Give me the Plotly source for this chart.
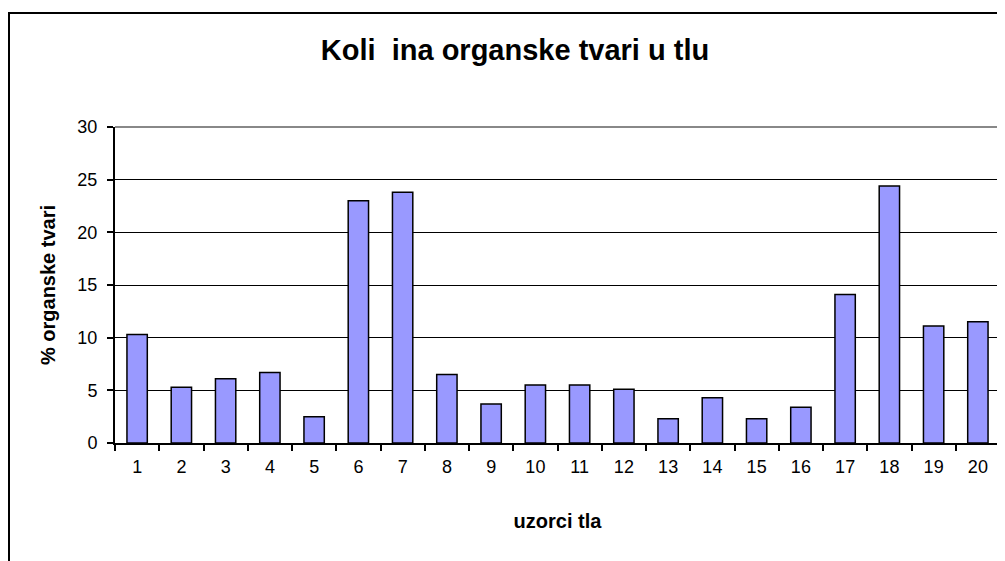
import plotly.graph_objects as go

categories = [str(i) for i in range(1, 21)]
values = [10.3, 5.3, 6.1, 6.7, 2.5, 23.0, 23.8, 6.5, 3.7, 5.5,
          5.5, 5.1, 2.3, 4.3, 2.3, 3.4, 14.1, 24.4, 11.1, 11.5]
y_ticks = [0, 5, 10, 15, 20, 25, 30]

title_text = "Koli  ina organske tvari u tlu"
x_title = "uzorci tla"
y_title = "% organske tvari"

W, H = 1005, 561
OFF = 8  # page body margin
L, R, T, B = 115 - OFF, 13, 127 - OFF, 126
pw = W - L - R
ph = H - T - B

FONT = "Liberation Sans, Arial, sans-serif"

fig = go.Figure()
fig.add_trace(go.Bar(
    x=categories, y=values,
    marker=dict(color="#9999FF", line=dict(color="black", width=1.5)),
    width=0.46,
))

def px_x(p):
    return (p - OFF - L) / pw

def px_y(p):
    return (H - B - (p - OFF)) / ph

shapes = [
    dict(type="line", xref="paper", yref="paper", x0=px_x(9), x1=px_x(9),
         y0=px_y(12), y1=px_y(580), line=dict(color="black", width=2)),
    dict(type="line", xref="paper", yref="paper", x0=px_x(8), x1=px_x(1030),
         y0=px_y(13), y1=px_y(13), line=dict(color="black", width=2)),
    dict(type="line", xref="paper", yref="paper", x0=0, x1=1, y0=1, y1=1,
         line=dict(color="#888888", width=2), layer="above"),
    dict(type="line", xref="paper", yref="paper", x0=1, x1=1, y0=0, y1=1,
         line=dict(color="#888888", width=2), layer="above"),
]

fig.update_layout(
    width=W, height=H,
    margin=dict(l=L, r=R, t=T, b=B),
    paper_bgcolor="white", plot_bgcolor="white",
    showlegend=False,
    shapes=shapes,
    title=dict(text="<b>" + title_text + "</b>", x=(515 - OFF) / W, xanchor="center",
               y=1 - (50 - OFF) / H, yanchor="middle",
               font=dict(family=FONT, size=29, color="black")),
    font=dict(family=FONT, size=18, color="black"),
)

fig.update_xaxes(
    type="category",
    showline=True, linecolor="black", linewidth=2,
    ticks="outside", tickson="boundaries", ticklen=6, tickcolor="black", tickwidth=1.5,
    showgrid=False,
    ticklabelstandoff=6,
    tickfont=dict(family=FONT, size=18, color="black"),
    title=dict(text="<b>" + x_title + "</b>", standoff=38,
               font=dict(family=FONT, size=20, color="black")),
)
fig.update_yaxes(
    range=[0, 30], tickvals=y_ticks,
    showline=True, linecolor="black", linewidth=2,
    ticks="outside", ticklen=6, tickcolor="black", tickwidth=1.5,
    showgrid=True, gridcolor="black", gridwidth=1,
    zeroline=False,
    ticklabelstandoff=6,
    tickfont=dict(family=FONT, size=18, color="black"),
    title=dict(text="<b>" + y_title + "</b>", standoff=16,
               font=dict(family=FONT, size=20, color="black")),
)

fig.write_html("out.html")
